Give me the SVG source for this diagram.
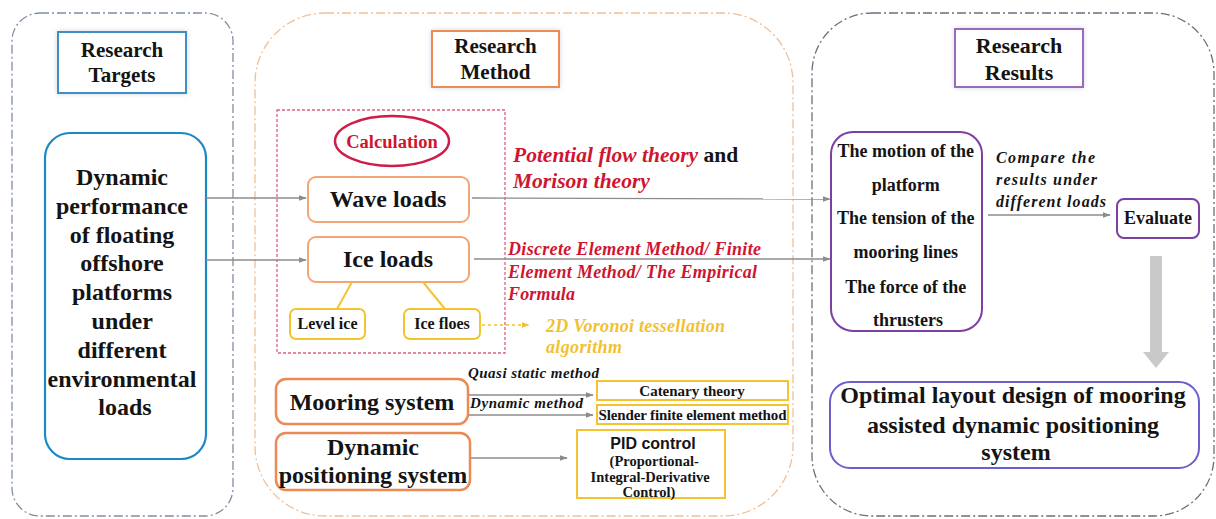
<svg xmlns="http://www.w3.org/2000/svg" width="1216" height="519" viewBox="0 0 1216 519" font-family="'Liberation Serif', 'Times New Roman', 'DejaVu Serif', serif">
<defs>
  <marker id="ah" viewBox="0 0 10 10" refX="9" refY="5" markerWidth="8" markerHeight="8" orient="auto" markerUnits="userSpaceOnUse">
    <path d="M0,1.5 L10,5 L0,8.5 z" fill="#8c8c8c"/>
  </marker>
  <marker id="ahy" viewBox="0 0 10 10" refX="9" refY="5" markerWidth="8" markerHeight="8" orient="auto" markerUnits="userSpaceOnUse">
    <path d="M0,1.5 L10,5 L0,8.5 z" fill="#f2c12e"/>
  </marker>
  <filter id="glow" x="-20%" y="-20%" width="140%" height="140%">
    <feDropShadow dx="0" dy="0" stdDeviation="2.5" flood-color="#9fb4c8" flood-opacity="0.5"/>
  </filter>
</defs>
<style>
  text{font-family:'Liberation Serif','Times New Roman','DejaVu Serif',serif}
  .t{font-weight:bold;fill:#141414}
  .bi{font-weight:bold;font-style:italic}
  .red{fill:#cf1530}
  .gold{fill:#f2c12e}
  .panel{fill:none;stroke-width:1.3;stroke-dasharray:9 3 2 3}
  .title{fill:#ffffff;stroke-width:2;filter:url(#glow)}
  .ob{fill:#ffffff;stroke:#f2a577;stroke-width:2}
  .ob2{fill:#ffffff;stroke:#eb8a55;stroke-width:2.5}
  .yb{fill:#ffffff;stroke:#f4c430;stroke-width:2}
  .conn{fill:none;stroke:#8c8c8c;stroke-width:1.3}
  .mid{text-anchor:middle}
  .sans{font-family:'Liberation Sans',Arial,sans-serif}
</style>
<rect x="0" y="0" width="1216" height="519" fill="#ffffff"/>

<g id="panel-targets">
  <rect class="panel" x="12" y="13" width="221" height="503" rx="28" stroke="#7f8ea3"/>
  <rect class="title" x="58" y="32" width="128" height="61" stroke="#3f8fc4"/>
  <text class="t mid" x="122" y="57" font-size="21">Research</text>
  <text class="t mid" x="122" y="82" font-size="21">Targets</text>
</g>

<g id="panel-method">
  <rect class="panel" x="255" y="13" width="538" height="503" rx="70" stroke="#f0bf98"/>
  <rect class="title" x="432" y="31" width="127" height="56" stroke="#f08a52"/>
  <text class="t mid" x="495.5" y="53" font-size="21">Research</text>
  <text class="t mid" x="495.5" y="79" font-size="21">Method</text>
</g>

<g id="panel-results">
  <rect class="panel" x="812" y="13" width="402" height="503" rx="60" stroke="#6e6e7e"/>
  <rect class="title" x="955" y="29" width="128" height="58" stroke="#9a6bb8"/>
  <text class="t mid" x="1019" y="53" font-size="22">Research</text>
  <text class="t mid" x="1019" y="80" font-size="22">Results</text>
</g>

<g id="target">
  <rect x="45" y="133" width="161" height="326" rx="25" fill="#ffffff" stroke="#1b8ac4" stroke-width="2.2"/>
  <text class="t mid" font-size="24">
    <tspan x="125" y="185">Dynamic</tspan>
    <tspan x="125" y="214">performance</tspan>
    <tspan x="125" y="243">of floating</tspan>
    <tspan x="125" y="271">offshore</tspan>
    <tspan x="125" y="300">platforms</tspan>
    <tspan x="125" y="329">under</tspan>
    <tspan x="125" y="358">different</tspan>
    <tspan x="125" y="387">environmental</tspan>
    <tspan x="125" y="415">loads</tspan>
  </text>
</g>

<g id="calculation-group">
  <rect x="277" y="110" width="228" height="243" fill="none" stroke="#e0607a" stroke-width="1.3" stroke-dasharray="3 2"/>
</g>

<g id="calculation">
  <ellipse cx="392" cy="141" rx="57" ry="25" fill="#ffffff" stroke="#d01c48" stroke-width="2.5"/>
  <text class="t mid red" x="392" y="148" font-size="18.5">Calculation</text>
</g>

<g id="wave-loads">
  <rect class="ob" x="308" y="177" width="161" height="45" rx="8"/>
  <text class="t mid" x="388" y="207" font-size="24">Wave loads</text>
</g>

<g id="ice-loads">
  <rect class="ob" x="308" y="237" width="161" height="45" rx="8"/>
  <text class="t mid" x="388" y="267" font-size="24">Ice loads</text>
</g>

<g id="level-ice">
  <rect class="yb" x="290" y="309" width="75" height="30" rx="6"/>
  <text class="t mid" x="327.5" y="329" font-size="16">Level ice</text>
</g>

<g id="ice-floes">
  <rect class="yb" x="404" y="309" width="76" height="30" rx="6"/>
  <text class="t mid" x="442" y="329" font-size="16">Ice floes</text>
</g>

<g id="wave-methods">
  <text x="513" y="162" font-size="21.5"><tspan class="bi red">Potential flow theory</tspan><tspan class="t"> and</tspan></text>
  <text class="bi red" x="513" y="188" font-size="21.5">Morison theory</text>
</g>

<g id="ice-methods">
  <text class="bi red" x="508" y="255" font-size="18" textLength="253" lengthAdjust="spacing">Discrete Element Method/ Finite</text>
  <text class="bi red" x="508" y="278" font-size="18" textLength="249" lengthAdjust="spacing">Element Method/ The Empirical</text>
  <text class="bi red" x="508" y="300" font-size="18" textLength="67" lengthAdjust="spacing">Formula</text>
</g>

<g id="voronoi">
  <text class="bi gold" x="546" y="332" font-size="18" textLength="179" lengthAdjust="spacing">2D Voronoi tessellation</text>
  <text class="bi gold" x="546" y="353" font-size="18" textLength="76" lengthAdjust="spacing">algorithm</text>
</g>

<g id="mooring-system">
  <rect class="ob2" x="276" y="379" width="192" height="45" rx="10"/>
  <text class="t mid" x="372" y="410" font-size="24">Mooring system</text>
</g>

<g id="dp-system">
  <rect class="ob2" x="276" y="433" width="194" height="57" rx="10"/>
  <text class="t mid" x="373" y="455" font-size="24">Dynamic</text>
  <text class="t mid" x="373" y="483" font-size="24">positioning system</text>
</g>

<g id="mooring-methods">
  <text class="bi" x="468" y="378" font-size="15" fill="#141414" textLength="131" lengthAdjust="spacing">Quasi static method</text>
  <text class="bi" x="470" y="408" font-size="15" fill="#141414" textLength="113" lengthAdjust="spacing">Dynamic method</text>
</g>

<g id="catenary">
  <rect class="yb" x="597" y="381" width="191" height="19"/>
  <text class="t mid" x="692" y="396" font-size="15">Catenary theory</text>
</g>

<g id="slender">
  <rect class="yb" x="597" y="405" width="191" height="19"/>
  <text class="t mid" x="692.5" y="420" font-size="15" textLength="188" lengthAdjust="spacing">Slender finite element method</text>
</g>

<g id="pid">
  <rect class="yb" x="577" y="430" width="148" height="68"/>
  <text class="sans mid" x="653" y="449" font-size="16" font-weight="bold" fill="#141414">PID control</text>
  <text class="t mid" font-size="14.5">
    <tspan x="656" y="466">(Proportional-</tspan>
    <tspan x="652" y="482">Integral-Derivative</tspan>
    <tspan x="649" y="497">Control)</tspan>
  </text>
</g>

<g id="results">
  <rect x="831" y="132" width="151" height="199" rx="22" fill="#ffffff" stroke="#7e3fa0" stroke-width="2"/>
  <text class="t mid" font-size="18">
    <tspan x="908" y="157">The motion of the</tspan>
    <tspan x="908" y="191">platform</tspan>
    <tspan x="908" y="224">The tension of the</tspan>
    <tspan x="908" y="258">mooring lines</tspan>
    <tspan x="908" y="293">The force of the</tspan>
    <tspan x="908" y="326">thrusters</tspan>
  </text>
</g>

<g id="compare-label">
  <text class="bi" x="996" y="163" font-size="16" fill="#141414" textLength="99" lengthAdjust="spacing">Compare the</text>
  <text class="bi" x="996" y="185" font-size="16" fill="#141414" textLength="101" lengthAdjust="spacing">results under</text>
  <text class="bi" x="996" y="207" font-size="16" fill="#141414" textLength="110" lengthAdjust="spacing">different loads</text>
</g>

<g id="evaluate">
  <rect x="1117" y="199" width="82" height="39" rx="7" fill="#ffffff" stroke="#7e3fa0" stroke-width="2"/>
  <text class="t mid" x="1158" y="224" font-size="18">Evaluate</text>
</g>

<g id="optimal-layout">
  <rect x="830" y="382" width="369" height="86" rx="20" fill="#ffffff" stroke="#6a5fcc" stroke-width="2"/>
  <text class="t mid" font-size="24">
    <tspan x="1016" y="403">Optimal layout design of mooring</tspan>
    <tspan x="1016" y="433">assisted dynamic positioning</tspan>
    <tspan x="1016" y="460">system</tspan>
  </text>
</g>

<g id="connectors">
  <line class="conn" x1="206" y1="198" x2="306" y2="198" marker-end="url(#ah)"/>
  <line class="conn" x1="206" y1="260" x2="306" y2="260" marker-end="url(#ah)"/>
  <line class="conn" x1="472" y1="198" x2="830" y2="199" marker-end="url(#ah)"/>
  <line class="conn" x1="474" y1="259" x2="830" y2="259" marker-end="url(#ah)"/>
  <line x1="352" y1="282" x2="337" y2="309" stroke="#f4c430" stroke-width="2"/>
  <line x1="423" y1="282" x2="445" y2="309" stroke="#f4c430" stroke-width="2"/>
  <line x1="482" y1="325" x2="529" y2="325" stroke="#f2c12e" stroke-width="1.3" stroke-dasharray="3 3" marker-end="url(#ahy)"/>
  <line class="conn" x1="469" y1="395" x2="593" y2="395" stroke="#a8a8a8" marker-end="url(#ah)"/>
  <line class="conn" x1="469" y1="415" x2="593" y2="415" stroke="#a8a8a8" marker-end="url(#ah)"/>
  <line class="conn" x1="471" y1="458" x2="567" y2="458" stroke="#a8a8a8" marker-end="url(#ah)"/>
  <line class="conn" x1="988" y1="215" x2="1110" y2="215" marker-end="url(#ah)"/>
  <path d="M1150,256 H1162 V352 H1169 L1156,368 L1143,352 H1150 Z" fill="#c9c9c9"/>
</g>
</svg>
